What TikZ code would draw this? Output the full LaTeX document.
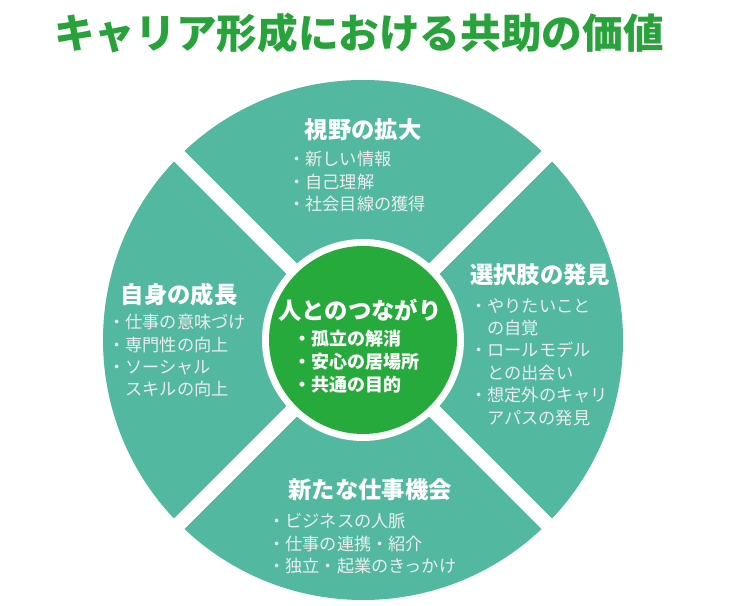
\documentclass[tikz,border=0pt]{standalone}
\usepackage{fontspec}
\setmainfont{Noto Sans CJK JP}
\definecolor{quadteal}{RGB}{82,184,160}
\definecolor{hubgreen}{RGB}{38,170,60}
\definecolor{titlegreen}{RGB}{40,162,58}
\newcommand{\ind}{\hphantom{・}}
\begin{document}
\begin{tikzpicture}[x=0.75pt,y=0.75pt,
  head/.style={text=white,font=\fontsize{17.5}{21}\selectfont\bfseries},
  items/.style={text=white!93!black,font=\fontsize{12.9}{16.8}\selectfont,
    align=left,anchor=north west,inner sep=0pt},
  hubitems/.style={items,text=white,font=\fontsize{13.5}{17.25}\selectfont\bfseries}]
	\useasboundingbox (0,0) rectangle (750,606);
	\node[font=\fontsize{30.5}{36}\selectfont\bfseries,text=titlegreen] (title) at (359,573) {キャリア形成における共助の価値};
	\coordinate (o) at (363,266);
	% ring of four parts
	\fill[quadteal] (o) circle (260);
	\draw[white,line width=11pt] (o) ++(45:268) -- ++(225:536);
	\draw[white,line width=11pt] (o) ++(135:268) -- ++(315:536);
	\fill[white] (o) circle (101);
	\fill[hubgreen] (o) circle (94);
	% top
	\node[head] (viewhead) at (363,476) {視野の拡大};
	\node[items] (viewlist) at (288,455) {・新しい情報\\・自己理解\\・社会目線の獲得};
	% left
	\node[head] (growhead) at (179,311) {自身の成長};
	\node[items] (growlist) at (108,292) {・仕事の意味づけ\\・専門性の向上\\・ソーシャル\\\ind スキルの向上};
	% right
	\node[head] (choicehead) at (540,331) {選択肢の発見};
	\node[items] (choicelist) at (470,308) {・やりたいこと\\\ind の自覚\\・ロールモデル\\\ind との出会い\\・想定外のキャリ\\\ind アパスの発見};
	% bottom
	\node[head] (jobhead) at (370,116) {新たな仕事機会};
	\node[items] (joblist) at (268,93) {・ビジネスの人脈\\・仕事の連携・紹介\\・独立・起業のきっかけ};
	% center
	\node[head] (hubhead) at (360,296) {人とのつながり};
	\node[hubitems] (hublist) at (293,276) {・孤立の解消\\・安心の居場所\\・共通の目的};
\end{tikzpicture}
\end{document}
